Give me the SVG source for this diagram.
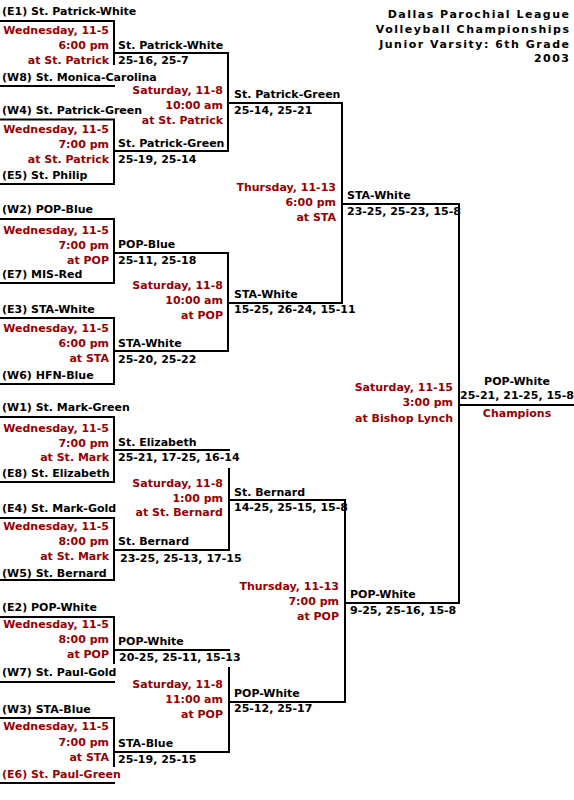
<svg xmlns="http://www.w3.org/2000/svg" width="574" height="800" viewBox="0 0 574 800">
<style>
text{font-family:"DejaVu Sans","Verdana",sans-serif;font-weight:bold;font-size:11px;fill:#000}
.r{fill:#990000;text-anchor:end}
.rc{fill:#990000;text-anchor:middle}
.c{text-anchor:middle}
.t{font-size:11px;text-anchor:end;letter-spacing:1.5px}
#connectors line{stroke:#000;stroke-width:2}
</style>
<rect width="574" height="800" fill="#fff"/>
<g id="title">
<text class="t" x="570.5" y="18">Dallas Parochial League</text>
<text class="t" x="570.5" y="33">Volleyball Championships</text>
<text class="t" x="570.5" y="48">Junior Varsity: 6th Grade</text>
<text class="t" x="570.5" y="62">2003</text>
</g>
<g id="connectors">
<line x1="0" y1="21" x2="115" y2="21"/><line x1="114" y1="21" x2="114" y2="65"/><line x1="0" y1="86" x2="115" y2="86"/>
<line x1="0" y1="119.5" x2="115" y2="119.5"/><line x1="114" y1="119" x2="114" y2="185"/><line x1="0" y1="184" x2="115" y2="184"/>
<line x1="0" y1="219" x2="115" y2="219"/><line x1="114" y1="219" x2="114" y2="284"/><line x1="0" y1="283" x2="115" y2="283"/>
<line x1="0" y1="318" x2="115" y2="318"/><line x1="114" y1="318" x2="114" y2="385"/><line x1="0" y1="384" x2="115" y2="384"/>
<line x1="114" y1="53" x2="229" y2="53"/><line x1="228" y1="53" x2="228" y2="152"/><line x1="114" y1="151" x2="229" y2="151"/>
<line x1="114" y1="253" x2="229" y2="253"/><line x1="228" y1="253" x2="228" y2="352"/><line x1="114" y1="351" x2="229" y2="351"/>
<line x1="228" y1="103" x2="343" y2="103"/><line x1="342" y1="103" x2="342" y2="304"/><line x1="228" y1="303" x2="343" y2="303"/>
<line x1="342" y1="204" x2="460" y2="204"/><line x1="459" y1="204" x2="459" y2="604"/><line x1="345" y1="603" x2="460" y2="603"/>
<line x1="459" y1="405" x2="574" y2="405"/>
<line x1="0" y1="417" x2="115" y2="417"/><line x1="114" y1="417" x2="114" y2="483"/><line x1="0" y1="482" x2="115" y2="482"/>
<line x1="0" y1="518" x2="115" y2="518"/><line x1="114" y1="518" x2="114" y2="581"/><line x1="0" y1="580" x2="115" y2="580"/>
<line x1="0" y1="617" x2="115" y2="617"/><line x1="114" y1="617" x2="114" y2="664"/><line x1="0" y1="682" x2="115" y2="682"/>
<line x1="0" y1="718" x2="115" y2="718"/><line x1="114" y1="718" x2="114" y2="767"/><line x1="0" y1="783" x2="115" y2="783"/>
<line x1="114" y1="450" x2="230" y2="450"/><line x1="229" y1="468" x2="229" y2="551"/><line x1="114" y1="550" x2="230" y2="550"/>
<line x1="114" y1="650" x2="230" y2="650"/><line x1="229" y1="667" x2="229" y2="753"/><line x1="114" y1="752" x2="230" y2="752"/>
<line x1="229" y1="500" x2="346" y2="500"/><line x1="345" y1="500" x2="345" y2="703"/><line x1="229" y1="702" x2="346" y2="702"/>
</g>
<g id="m-e1-w8">
<text x="2" y="15">(E1) St. Patrick-White</text>
<text class="r" x="109" y="34">Wednesday, 11-5</text>
<text class="r" x="109" y="49">6:00 pm</text>
<text class="r" x="109" y="64">at St. Patrick</text>
<text x="2" y="81">(W8) St. Monica-Carolina</text>
</g>
<g id="m-w4-e5">
<text x="2" y="114">(W4) St. Patrick-Green</text>
<text class="r" x="109" y="133">Wednesday, 11-5</text>
<text class="r" x="109" y="148">7:00 pm</text>
<text class="r" x="109" y="163">at St. Patrick</text>
<text x="2" y="179">(E5) St. Philip</text>
</g>
<g id="m-w2-e7">
<text x="2" y="213">(W2) POP-Blue</text>
<text class="r" x="109" y="234">Wednesday, 11-5</text>
<text class="r" x="109" y="249">7:00 pm</text>
<text class="r" x="109" y="264">at POP</text>
<text x="2" y="278">(E7) MIS-Red</text>
</g>
<g id="m-e3-w6">
<text x="2" y="313">(E3) STA-White</text>
<text class="r" x="109" y="332">Wednesday, 11-5</text>
<text class="r" x="109" y="347">6:00 pm</text>
<text class="r" x="109" y="362">at STA</text>
<text x="2" y="379">(W6) HFN-Blue</text>
</g>
<g id="m-w1-e8">
<text x="2" y="411">(W1) St. Mark-Green</text>
<text class="r" x="109" y="432">Wednesday, 11-5</text>
<text class="r" x="109" y="447">7:00 pm</text>
<text class="r" x="109" y="461">at St. Mark</text>
<text x="2" y="477">(E8) St. Elizabeth</text>
</g>
<g id="m-e4-w5">
<text x="2" y="512">(E4) St. Mark-Gold</text>
<text class="r" x="109" y="530">Wednesday, 11-5</text>
<text class="r" x="109" y="545">8:00 pm</text>
<text class="r" x="109" y="560">at St. Mark</text>
<text x="2" y="577">(W5) St. Bernard</text>
</g>
<g id="m-e2-w7">
<text x="2" y="611">(E2) POP-White</text>
<text class="r" x="109" y="628">Wednesday, 11-5</text>
<text class="r" x="109" y="643">8:00 pm</text>
<text class="r" x="109" y="658">at POP</text>
<text x="2" y="676">(W7) St. Paul-Gold</text>
</g>
<g id="m-w3-e6">
<text x="2" y="713">(W3) STA-Blue</text>
<text class="r" x="109" y="730">Wednesday, 11-5</text>
<text class="r" x="109" y="746">7:00 pm</text>
<text class="r" x="109" y="761">at STA</text>
<text x="2" y="778" style="fill:#990000">(E6) St. Paul-Green</text>
</g>
<g id="q1">
<text x="118" y="49">St. Patrick-White</text>
<text x="118" y="64">25-16, 25-7</text>
<text class="r" x="223" y="94">Saturday, 11-8</text>
<text class="r" x="223" y="109">10:00 am</text>
<text class="r" x="223" y="124">at St. Patrick</text>
<text x="118" y="147">St. Patrick-Green</text>
<text x="118" y="163">25-19, 25-14</text>
</g>
<g id="q2">
<text x="118" y="248">POP-Blue</text>
<text x="118" y="264">25-11, 25-18</text>
<text class="r" x="223" y="289">Saturday, 11-8</text>
<text class="r" x="223" y="304">10:00 am</text>
<text class="r" x="223" y="319">at POP</text>
<text x="118" y="347">STA-White</text>
<text x="118" y="363">25-20, 25-22</text>
</g>
<g id="q3">
<text x="118" y="446">St. Elizabeth</text>
<text x="118" y="461">25-21, 17-25, 16-14</text>
<text class="r" x="223" y="487">Saturday, 11-8</text>
<text class="r" x="223" y="502">1:00 pm</text>
<text class="r" x="223" y="516">at St. Bernard</text>
<text x="118" y="545">St. Bernard</text>
<text x="120" y="562">23-25, 25-13, 17-15</text>
</g>
<g id="q4">
<text x="118" y="645">POP-White</text>
<text x="119" y="661">20-25, 25-11, 15-13</text>
<text class="r" x="223" y="688">Saturday, 11-8</text>
<text class="r" x="223" y="703">11:00 am</text>
<text class="r" x="223" y="718">at POP</text>
<text x="118" y="747">STA-Blue</text>
<text x="118" y="763">25-19, 25-15</text>
</g>
<g id="s1">
<text x="234" y="98">St. Patrick-Green</text>
<text x="234" y="114">25-14, 25-21</text>
<text class="r" x="336" y="191">Thursday, 11-13</text>
<text class="r" x="336" y="206">6:00 pm</text>
<text class="r" x="336" y="221">at STA</text>
<text x="234" y="298">STA-White</text>
<text x="234" y="313">15-25, 26-24, 15-11</text>
</g>
<g id="s2">
<text x="234" y="496">St. Bernard</text>
<text x="234" y="511">14-25, 25-15, 15-8</text>
<text class="r" x="339" y="590">Thursday, 11-13</text>
<text class="r" x="339" y="605">7:00 pm</text>
<text class="r" x="339" y="620">at POP</text>
<text x="234" y="697">POP-White</text>
<text x="234" y="712">25-12, 25-17</text>
</g>
<g id="f">
<text x="347" y="199">STA-White</text>
<text x="347" y="215">23-25, 25-23, 15-8</text>
<text class="r" x="453" y="391">Saturday, 11-15</text>
<text class="r" x="453" y="406">3:00 pm</text>
<text class="r" x="453" y="422">at Bishop Lynch</text>
<text x="350" y="598">POP-White</text>
<text x="350" y="614">9-25, 25-16, 15-8</text>
</g>
<g id="champion">
<text class="c" x="517" y="385">POP-White</text>
<text class="c" x="517" y="399">25-21, 21-25, 15-8</text>
<text class="rc" x="517" y="417">Champions</text>
</g>
</svg>
